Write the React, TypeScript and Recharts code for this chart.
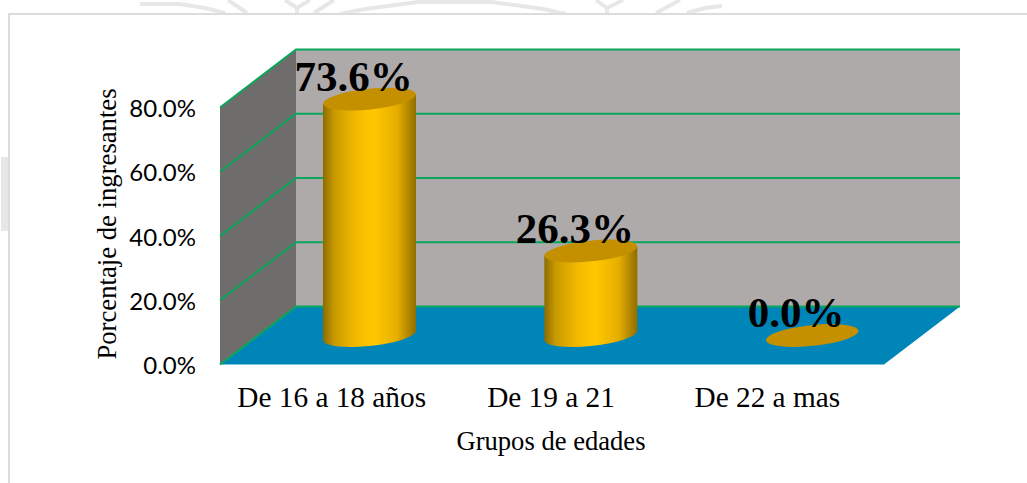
import { Bar, BarChart, LabelList, XAxis, YAxis, usePlotArea } from "recharts";

const categories = ["De 16 a 18 años", "De 19 a 21", "De 22 a mas"];
const porcentajes = [73.6, 26.3, 0.0];
const yTicks = [0, 20, 40, 60, 80];
const rows = categories.map((grupo, i) => ({ grupo, valor: porcentajes[i] }));

const SERIF = "'Liberation Serif', serif";
const GREEN = "#08a85c";
// desplazamiento de la pared del fondo respecto al plano frontal
const DEPTH_X = 76;
const DEPTH_Y = -58;
const MAX_Y = 80;
// los cilindros van a media profundidad del piso
const MID_X = DEPTH_X / 2 + 1;
const MID_Y = DEPTH_Y / 2;
// las etiquetas del original no caen justo en el centro de cada banda
const TICK_NUDGE = [1, -1, -6];

// marca de agua que asoma por encima del recuadro
const WATERMARK = [
  "140,4 180,4 205,8 225,13",
  "228,0 247,13",
  "285,0 297,8 310,0",
  "297,8 297,13",
  "314,13 334,0",
  "340,14 365,9 388,6 418,2 491,2 522,6 543,9 566,14",
  "596,0 607,8 623,0",
  "607,8 607,13",
  "656,13 680,0",
  "687,13 705,8 722,6",
];

/** Paredes, piso y rejilla en falsa perspectiva. */
function Room() {
  const area = usePlotArea();
  if (!area) return null;
  const { x, y, width, height } = area;
  const bottom = y + height;
  const right = x + width;
  const bx = x + DEPTH_X;
  const pts = (p: number[][]) => p.map((q) => q.join(",")).join(" ");
  return (
    <g>
      <polygon points={pts([[bx, y + DEPTH_Y], [right + DEPTH_X, y + DEPTH_Y], [right + DEPTH_X, bottom + DEPTH_Y], [bx, bottom + DEPTH_Y]])} fill="#aeaaaa" />
      <polygon points={pts([[x, y], [bx, y + DEPTH_Y], [bx, bottom + DEPTH_Y], [x, bottom]])} fill="#6f6c6c" />
      <polygon points={pts([[x, bottom], [bx, bottom + DEPTH_Y], [right + DEPTH_X, bottom + DEPTH_Y], [right, bottom]])} fill="#0085b8" />
      {yTicks.map((t) => {
        const ty = bottom - (height * t) / MAX_Y;
        return (
          <polyline
            key={t}
            points={pts([[x, ty], [bx, ty + DEPTH_Y], [right + DEPTH_X, ty + DEPTH_Y]])}
            fill="none"
            stroke={GREEN}
            strokeWidth={2}
          />
        );
      })}
    </g>
  );
}

/** Cilindro con la base y la tapa inclinadas. */
function Cylinder(props: any) {
  const { x, y, width, height } = props;
  const cx = x + width / 2 + MID_X;
  const rx = width / 2;
  const ry = 10.4;
  const tilt = 4.6;
  const top = y + MID_Y;
  const base = y + height + MID_Y;
  const body =
    `M${cx - rx},${top + tilt} L${cx - rx},${base + tilt} ` +
    `A${rx},${ry} -6 0 0 ${cx + rx},${base - tilt} L${cx + rx},${top - tilt} Z`;
  return (
    <g>
      {height > 0 && <path d={body} fill="url(#cilindro)" />}
      <ellipse cx={cx} cy={top} rx={rx} ry={ry} fill="#c49000" transform={`rotate(-6 ${cx} ${top})`} />
    </g>
  );
}

function ValueLabel(props: any) {
  const { x, y, width, value } = props;
  return (
    <text
      x={x + width / 2 + MID_X - 16}
      y={y + MID_Y - 8.5}
      textAnchor="middle"
      fontFamily={SERIF}
      fontWeight="bold"
      fontSize={43}
      fill="#000"
    >
      {`${Number(value).toFixed(1)}%`}
    </text>
  );
}

function CategoryTick(props: any) {
  const { x, y, payload, index } = props;
  return (
    <text x={x + TICK_NUDGE[index]} y={y} dy={20.5} textAnchor="middle" fontFamily={SERIF} fontSize={29.3} fill="#000">
      {payload.value}
    </text>
  );
}

function XTitle() {
  return (
    <text x={551} y={450} textAnchor="middle" fontFamily={SERIF} fontSize={26.6} fill="#000">
      Grupos de edades
    </text>
  );
}

function YTitle() {
  return (
    <text x={116} y={224} textAnchor="middle" transform="rotate(-90 116 224)" fontFamily={SERIF} fontSize={26.7} fill="#000">
      Porcentaje de ingresantes
    </text>
  );
}

export default function App() {
  return (
    <div style={{ position: "absolute", left: 0, top: 0, width: 1027, height: 483, background: "#fff", overflow: "hidden" }}>
      <svg width={1027} height={14} style={{ position: "absolute", left: 0, top: 0 }}>
        {WATERMARK.map((p) => (
          <polyline key={p} points={p} fill="none" stroke="#e6e8e8" strokeWidth={4} />
        ))}
      </svg>
      <div style={{ position: "absolute", left: 1, top: 157, width: 7, height: 74, background: "#e6e8e8" }} />
      <div
        style={{
          position: "absolute",
          left: 8,
          top: 13,
          width: 1100,
          height: 520,
          border: "2px solid #dcdcdc",
          boxSizing: "border-box",
        }}
      />
      <BarChart
        width={1027}
        height={483}
        data={rows}
        margin={{ top: 107.5, right: 143, bottom: 0, left: 0 }}
        barSize={93}
        style={{ position: "absolute", left: 0, top: 0 }}
      >
        <defs>
          <linearGradient id="cilindro" x1="0" y1="0" x2="1" y2="0">
            <stop offset="0" stopColor="#8c6c00" />
            <stop offset="0.12" stopColor="#c89a00" />
            <stop offset="0.35" stopColor="#f2b900" />
            <stop offset="0.55" stopColor="#ffc800" />
            <stop offset="0.8" stopColor="#e6ad00" />
            <stop offset="1" stopColor="#8f6e00" />
          </linearGradient>
        </defs>
        <Room />
        <XAxis
          dataKey="grupo"
          axisLine={false}
          tickLine={false}
          tickSize={0}
          tickMargin={22}
          height={118.5}
          interval={0}
          tick={CategoryTick}
          label={{ content: XTitle }}
        />
        <YAxis
          domain={[0, MAX_Y]}
          ticks={yTicks}
          axisLine={false}
          tickLine={false}
          tickSize={0}
          tickMargin={24}
          width={220}
          tickFormatter={(v: number) => `${v.toFixed(1)}%`}
          tick={{ fontFamily: "Lato", fontSize: 24, fill: "#000", dy: 1 }}
          label={{ content: YTitle }}
        />
        <Bar dataKey="valor" shape={Cylinder} isAnimationActive={false}>
          <LabelList dataKey="valor" content={ValueLabel} />
        </Bar>
      </BarChart>
    </div>
  );
}
